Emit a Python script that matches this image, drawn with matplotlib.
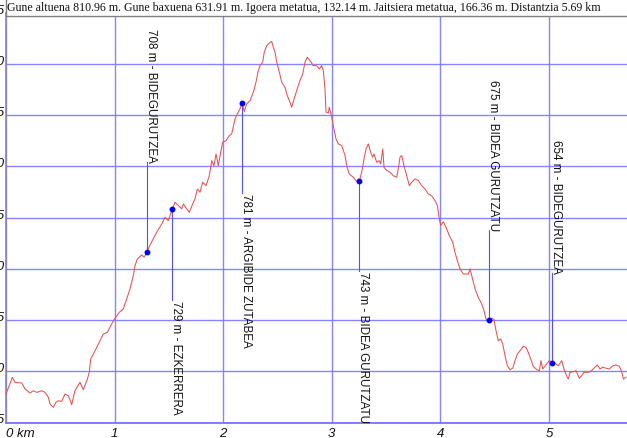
import matplotlib
matplotlib.use("Agg")
import matplotlib.pyplot as plt
from matplotlib.patches import Rectangle

# profile (km, m)
dist_km = [0.0, 0.058, 0.083, 0.145, 0.175, 0.221, 0.251, 0.283, 0.329, 0.359,
           0.390, 0.405, 0.436, 0.460, 0.482, 0.513, 0.543, 0.574, 0.605, 0.635,
           0.681, 0.712, 0.749, 0.767, 0.780, 0.820, 0.859, 0.896, 0.933, 0.973,
           1.004, 1.043, 1.080, 1.111, 1.142, 1.172, 1.188, 1.209, 1.250, 1.271,
           1.296, 1.320, 1.388, 1.434, 1.464, 1.494, 1.526, 1.556, 1.587, 1.618,
           1.633, 1.664, 1.688, 1.719, 1.740, 1.762, 1.786, 1.811, 1.842, 1.872,
           1.894, 1.915, 1.934, 1.955, 1.977, 1.995, 2.026, 2.056, 2.078, 2.109,
           2.130, 2.155, 2.173, 2.194, 2.216, 2.247, 2.277, 2.302, 2.323, 2.339,
           2.364, 2.378, 2.401, 2.431, 2.447, 2.461, 2.477, 2.493, 2.517, 2.539,
           2.569, 2.590, 2.615, 2.631, 2.652, 2.677, 2.701, 2.732, 2.753, 2.774,
           2.799, 2.830, 2.861, 2.885, 2.907, 2.922, 2.937, 2.947, 2.968, 2.977,
           2.999, 3.014, 3.039, 3.060, 3.091, 3.122, 3.137, 3.161, 3.198, 3.229,
           3.253, 3.275, 3.297, 3.315, 3.336, 3.358, 3.376, 3.389, 3.413, 3.437,
           3.450, 3.469, 3.481, 3.506, 3.536, 3.566, 3.598, 3.612, 3.628, 3.644,
           3.665, 3.690, 3.714, 3.736, 3.766, 3.797, 3.828, 3.858, 3.889, 3.920,
           3.950, 3.972, 3.990, 4.003, 4.027, 4.052, 4.082, 4.113, 4.134, 4.156,
           4.180, 4.211, 4.257, 4.273, 4.319, 4.349, 4.380, 4.401, 4.420, 4.450,
           4.472, 4.494, 4.512, 4.533, 4.555, 4.574, 4.595, 4.616, 4.641, 4.666,
           4.687, 4.708, 4.733, 4.763, 4.788, 4.809, 4.831, 4.855, 4.887, 4.911,
           4.926, 4.942, 4.972, 5.003, 5.034, 5.064, 5.086, 5.117, 5.138, 5.163,
           5.178, 5.193, 5.224, 5.249, 5.279, 5.301, 5.322, 5.362, 5.392, 5.423,
           5.445, 5.470, 5.494, 5.525, 5.555, 5.587, 5.617, 5.648, 5.670, 5.685,
           5.709]
elev_m = [638.9, 647.0, 644.6, 644.3, 641.4, 639.4, 640.5, 639.7, 640.5, 639.7,
          637.3, 634.0, 632.4, 634.9, 635.6, 635.3, 638.9, 638.1, 633.7, 640.5,
          644.6, 641.0, 646.2, 649.5, 656.0, 660.0, 664.2, 668.2, 669.0, 673.1,
          675.9, 678.8, 680.4, 685.3, 690.2, 696.7, 701.6, 704.8, 706.8, 705.7,
          707.8, 711.0, 717.9, 721.9, 725.2, 723.5, 728.4, 732.5, 730.9, 729.3,
          731.7, 729.3, 727.6, 731.7, 734.1, 739.0, 737.4, 742.3, 740.6, 745.5,
          752.8, 750.4, 756.1, 750.4, 756.9, 761.8, 762.6, 765.0, 765.9, 773.2,
          775.6, 778.1, 781.0, 776.8, 780.5, 782.1, 786.2, 791.1, 796.8, 799.2,
          800.9, 805.8, 809.0, 810.6, 810.96, 808.2, 805.8, 800.9, 796.0, 791.1,
          788.7, 784.6, 781.3, 778.9, 782.9, 787.0, 791.1, 795.0, 800.9, 803.3,
          801.7, 799.2, 799.2, 797.6, 799.2, 796.8, 787.8, 776.5, 776.1, 778.9,
          774.0, 769.9, 763.4, 761.0, 760.2, 755.3, 750.4, 746.3, 744.7, 742.6,
          742.8, 747.2, 753.7, 758.5, 761.0, 756.9, 754.5, 756.1, 752.0, 752.8,
          751.2, 758.5, 749.6, 748.0, 747.2, 745.5, 744.7, 748.8, 754.5, 755.3,
          750.4, 745.5, 740.6, 742.3, 743.9, 743.1, 740.6, 739.0, 736.6, 735.7,
          733.3, 730.9, 724.4, 721.1, 723.0, 720.3, 716.2, 713.0, 708.1, 704.0,
          700.0, 697.5, 697.5, 700.0, 690.2, 686.1, 682.9, 679.6, 675.5, 675.0,
          675.9, 675.2, 669.8, 664.9, 665.8, 663.3, 657.6, 652.7, 650.8, 651.5,
          655.2, 658.4, 660.0, 662.2, 661.7, 659.3, 656.0, 652.4, 650.8, 650.3,
          655.2, 651.1, 653.1, 655.2, 654.1, 653.6, 652.7, 655.2, 651.1, 647.6,
          646.2, 649.5, 649.8, 650.3, 646.6, 647.9, 649.5, 649.5, 650.3, 652.0,
          653.1, 651.1, 652.0, 651.5, 651.1, 652.7, 653.1, 652.4, 649.8, 646.2,
          647.1]

# waypoints
poi_km = [1.298, 1.526, 2.173, 3.255, 4.448, 5.032]
poi_elev = [708, 729, 781, 743, 675, 654]
poi_names = ["BIDEGURUTZEA", "EZKERRERA", "ARGIBIDE ZUTABEA",
             "BIDEA GURUTZATU", "BIDEA GURUTZATU", "BIDEGURUTZEA"]
poi_up = [True, False, False, False, True, True]

x_ticks = [0, 1, 2, 3, 4, 5]
x_labels = ["0 km", "1", "2", "3", "4", "5"]
y_ticks = list(range(625, 826, 25))

title = ("Gune altuena 810.96 m. Gune baxuena 631.91 m. Igoera metatua, 132.14 m. "
         "Jaitsiera metatua, 166.36 m. Distantzia 5.69 km")

W, H = 627, 439
fig = plt.figure(figsize=(W / 100, H / 100), dpi=100)
ax = fig.add_axes([6 / W, 15.5 / H, 621 / W, 409.7 / H])

grid_col = "#7878ff"
ax.set_xlim(0, 621 / 108.6)
ax.set_ylim(625, 825)
ax.set_xticks(x_ticks)
ax.set_xticklabels(x_labels, fontstyle="italic", fontsize=9.5, family="Liberation Sans")
ax.set_yticks(y_ticks)
ax.set_yticklabels([str(v) for v in y_ticks], fontstyle="italic", fontsize=9.5,
                   family="Liberation Sans")
ax.tick_params(length=0, pad=1, colors="#111111")
ax.tick_params(axis="x", pad=3)
ax.get_xticklabels()[0].set_ha("left")
for t in ax.get_yticklabels():
    t.set_va("baseline")
ax.grid(True, color=grid_col, lw=1.0, alpha=0.9)
ax.set_axisbelow(True)
for s in ["top", "right"]:
    ax.spines[s].set_visible(False)
ax.spines["left"].set_color("#8888aa")
ax.spines["bottom"].set_color("#6a6aff")
ax.spines["left"].set_linewidth(1.2)
ax.spines["bottom"].set_linewidth(1.2)

ax.plot(dist_km, elev_m, color="#e35252", lw=0.75, zorder=3)

gap = 44  # line length in m
for km, e, name, up in zip(poi_km, poi_elev, poi_names, poi_up):
    end = e + gap if up else e - gap
    ax.plot([km, km], [e, end], color="#5050ff", lw=0.8, zorder=2)
    ax.plot(km, e, "o", color="#0000ee", ms=3.2, zorder=4)
    ax.text(km + 0.035, end, f"{e} m - {name}", rotation=270,
            ha="center", va="bottom" if up else "top",
            fontsize=8.4, family="Liberation Sans", color="#111111", zorder=5)

box = Rectangle((6 / W, 1 - 17 / H), 1.0, 17 / H + 0.01, transform=fig.transFigure,
                facecolor="white", edgecolor="#808080", lw=1.0, zorder=5)
fig.add_artist(box)
fig.text(7 / W, 1 - 8.5 / H, title, family="Liberation Serif", fontsize=8.55,
         va="center", ha="left", color="#111111", zorder=6)

fig.savefig("out.png", dpi=100)
